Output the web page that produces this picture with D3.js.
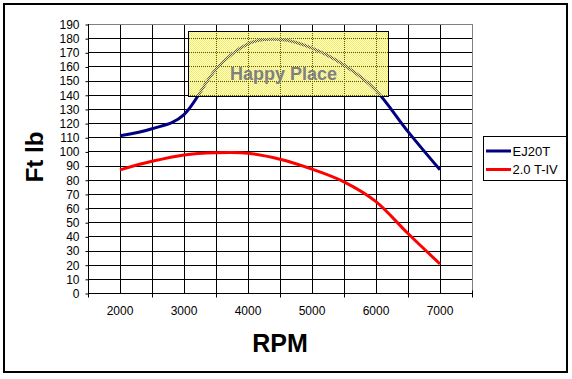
<!DOCTYPE html>
<html>
<head>
<meta charset="utf-8">
<script src="https://cdn.jsdelivr.net/npm/d3@7"></script>
<style>
  html, body { margin: 0; padding: 0; background: #fff; }
  svg { display: block; }
  text { font-family: Arial, "Liberation Sans", sans-serif; }
</style>
</head>
<body>
<svg id="chart" width="572" height="379"></svg>
<script>
// ---- data ----
const rpm = [2000, 2500, 3000, 3500, 4000, 4500, 5000, 5500, 6000, 6500, 7000];
const ej20t = [111, 116, 126, 158, 176, 179, 173, 161, 143, 114, 87];
const t4 = [87, 93, 97.5, 99, 98.7, 94.5, 87.5, 78.5, 64.5, 42, 20.5];
const seriesNames = ["EJ20T", "2.0 T-IV"];
const xTickLabels = [2000, 3000, 4000, 5000, 6000, 7000];
const yTicks = d3.range(0, 191, 10);
const happyLabel = "Happy Place";
const happyBox = { x0: 3060, x1: 6190, y0: 139, y1: 185 };

const svg = d3.select("#chart");
const W = 572, H = 379;
const pLeft = 88, pRight = 472, pTop = 24, pBottom = 293;

const x = d3.scaleLinear().domain([1500, 7500]).range([pLeft, pRight]);
const y = d3.scaleLinear().domain([0, 190]).range([pBottom, pTop]);
const crisp = v => Math.round(v) + 0.5;

// background
svg.append("rect").attr("x", 0).attr("y", 0).attr("width", W).attr("height", H).attr("fill", "#fff");

// outer border
svg.append("rect").attr("x", 4).attr("y", 4).attr("width", 563).attr("height", 368)
  .attr("fill", "none").attr("stroke", "#000").attr("stroke-width", 2);

// horizontal gridlines
const g = svg.append("g");
g.selectAll("line.hg").data(yTicks.filter(d => d > 0 && d < 190)).enter().append("line")
  .attr("x1", pLeft).attr("x2", pRight)
  .attr("y1", d => crisp(y(d))).attr("y2", d => crisp(y(d)))
  .attr("stroke", "#000").attr("stroke-width", 1);

// vertical gridlines every 500 rpm
const vgrid = d3.range(2000, 7500, 500);
g.selectAll("line.vg").data(vgrid).enter().append("line")
  .attr("x1", d => crisp(x(d))).attr("x2", d => crisp(x(d)))
  .attr("y1", pTop).attr("y2", pBottom)
  .attr("stroke", "#000").attr("stroke-width", 1);

// plot area border top/right (gray)
svg.append("line").attr("x1", pLeft).attr("x2", crisp(pRight)).attr("y1", crisp(pTop)).attr("y2", crisp(pTop))
  .attr("stroke", "#808080");
svg.append("line").attr("x1", crisp(pRight)).attr("x2", crisp(pRight)).attr("y1", pTop).attr("y2", pBottom)
  .attr("stroke", "#808080");

// y axis
const yAxis = d3.axisLeft(y).tickValues(yTicks).tickSize(3).tickPadding(6);
const ya = svg.append("g").attr("transform", `translate(${crisp(pLeft)},0.5)`).call(yAxis);
ya.select(".domain").attr("stroke", "#000").attr("d", `M0,${pTop - 0.5}V${pBottom}`);
ya.selectAll(".tick line").attr("stroke", "#000");
ya.selectAll(".tick text").attr("font-size", 12).attr("font-family", "Arial, 'Liberation Sans', sans-serif").attr("fill", "#000");

// x axis: ticks at category boundaries (cross), labels at centers
const xa = svg.append("g").attr("transform", `translate(0,${crisp(pBottom)})`);
xa.append("line").attr("x1", pLeft).attr("x2", pRight + 1).attr("y1", 0).attr("y2", 0).attr("stroke", "#000");
const bounds = d3.range(1500, 7501, 1000);
xa.selectAll("line.t").data(bounds).enter().append("line")
  .attr("x1", d => crisp(x(d))).attr("x2", d => crisp(x(d)))
  .attr("y1", -3).attr("y2", 4).attr("stroke", "#000");
xa.selectAll("text").data(xTickLabels).enter().append("text")
  .attr("x", d => x(d)).attr("y", 21).attr("text-anchor", "middle")
  .attr("font-size", 12).attr("fill", "#000").text(d => d);

// lines
const line = d3.line().x((d, i) => x(rpm[i])).y(d => y(d)).curve(d3.curveCatmullRom.alpha(0));
svg.append("path").datum(ej20t).attr("d", line).attr("fill", "none")
  .attr("stroke", "#000080").attr("stroke-width", 3).attr("stroke-linejoin", "round");
svg.append("path").datum(t4).attr("d", line).attr("fill", "none")
  .attr("stroke", "#ff0000").attr("stroke-width", 3).attr("stroke-linejoin", "round");

// Happy place box (dithered semi-transparent yellow)
const defs = svg.append("defs");
const pat = defs.append("pattern").attr("id", "dither").attr("patternUnits", "userSpaceOnUse")
  .attr("width", 2).attr("height", 2);
pat.append("rect").attr("x", 0).attr("y", 0).attr("width", 2).attr("height", 2).attr("fill", "rgba(255,255,120,0.35)");
pat.append("rect").attr("x", 0).attr("y", 0).attr("width", 1).attr("height", 1).attr("fill", "#f2ec66");
pat.append("rect").attr("x", 1).attr("y", 1).attr("width", 1).attr("height", 1).attr("fill", "#f2ec66");

const bx0 = Math.round(x(happyBox.x0)) + 0.5, bx1 = Math.round(x(happyBox.x1)) + 0.5;
const by0 = Math.round(y(happyBox.y1)) + 0.5, by1 = Math.round(y(happyBox.y0)) + 0.5;
svg.append("rect").attr("x", bx0).attr("y", by0).attr("width", bx1 - bx0).attr("height", by1 - by0)
  .attr("fill", "url(#dither)").attr("stroke", "#000").attr("stroke-width", 1);
svg.append("text").attr("x", (bx0 + bx1) / 2 - 5).attr("y", 79.5).attr("text-anchor", "middle")
  .attr("font-size", 18).attr("font-weight", "bold").attr("fill", "#808080").text(happyLabel);

// axis titles
svg.append("text").attr("x", 280).attr("y", 352).attr("text-anchor", "middle")
  .attr("font-size", 25).attr("font-weight", "bold").attr("fill", "#000").text("RPM");
svg.append("text").attr("transform", "translate(42.5,157) rotate(-90)").attr("text-anchor", "middle")
  .attr("font-size", 24).attr("font-weight", "bold").attr("fill", "#000").text("Ft lb");

// legend
const lg = svg.append("g");
lg.append("rect").attr("x", 483.5).attr("y", 136.5).attr("width", 83).attr("height", 44)
  .attr("fill", "#fff").attr("stroke", "#000").attr("stroke-width", 1);
const colors = ["#000080", "#ff0000"];
seriesNames.forEach((n, i) => {
  const yy = 151 + i * 18.5;
  lg.append("line").attr("x1", 486).attr("x2", 511).attr("y1", yy).attr("y2", yy)
    .attr("stroke", colors[i]).attr("stroke-width", 3);
  lg.append("text").attr("x", 512.5).attr("y", yy + 4.5).attr("font-size", 13).attr("fill", "#000").text(n);
});
</script>
</body>
</html>
